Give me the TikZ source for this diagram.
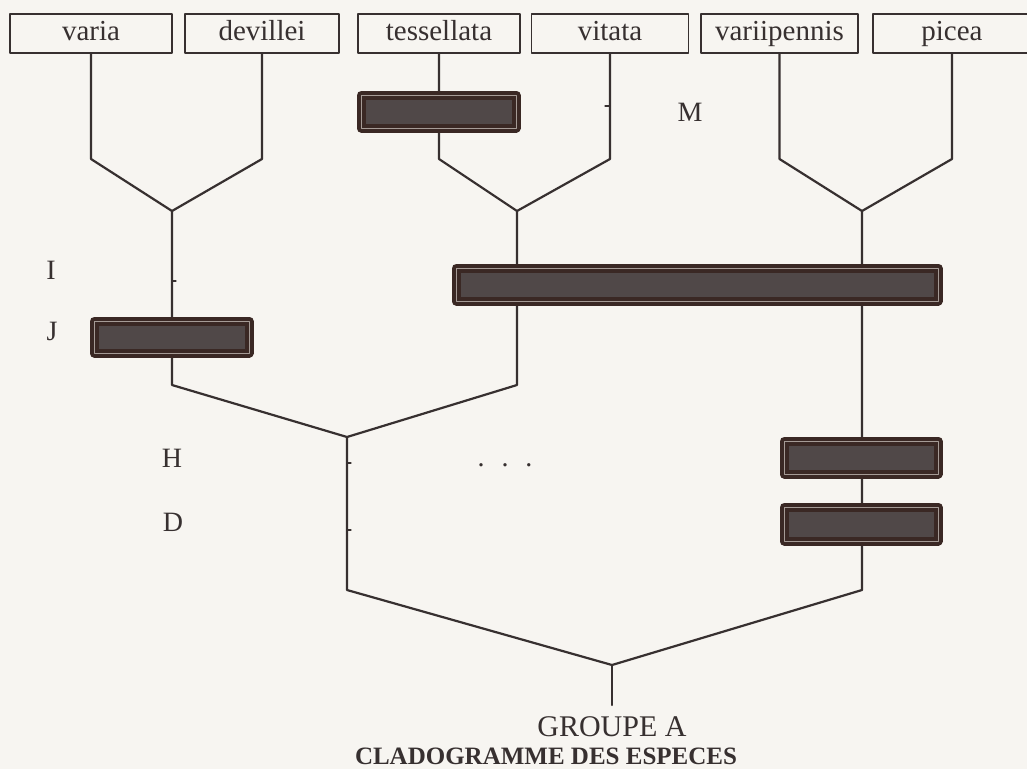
\documentclass[tikz,border=0pt]{standalone}
\usepackage{fontspec}
\setmainfont{Liberation Serif}
\usepackage{xcolor}
\definecolor{paper}{RGB}{247,245,241}
\definecolor{ink}{RGB}{55,48,48}
\definecolor{bardark}{RGB}{58,40,36}
\definecolor{bargrey}{RGB}{80,72,72}
\definecolor{barlight}{RGB}{165,155,150}

\begin{document}
\begin{tikzpicture}[x=1pt,y=-1pt,line width=2pt,line cap=round,line join=round,
    taxon/.style={draw=ink,line width=1.8pt,rectangle,inner sep=0pt,minimum height=39pt,
      text height=20pt,text depth=6pt,text=ink,font=\fontsize{29}{32}\selectfont},
    branch/.style={draw=ink,line width=2.2pt},
    charbar/.style={rectangle,inner sep=0pt,fill=bargrey,draw=bardark,line width=4pt,
      double=barlight,double distance=1pt},
    letter/.style={anchor=base,inner sep=0pt,text=ink,font=\fontsize{28}{32}\selectfont}]
  \path[use as bounding box,fill=paper] (0,0) rectangle (1027,769);

  % species
  \node[taxon,minimum width=162pt] (varia)       at (91,33.5)    {varia};
  \node[taxon,minimum width=154pt] (devillei)    at (262,33.5)   {devillei};
  \node[taxon,minimum width=162pt] (tessellata)  at (439,33.5)   {tessellata};
  \node[taxon,minimum width=157pt] (vitata)      at (610,33.5)   {vitata};
  \node[taxon,minimum width=157pt] (variipennis) at (779.5,33.5) {variipennis};
  \node[taxon,minimum width=158pt] (picea)       at (952,33.5)   {picea};

  % levels and forks
  \coordinate (lvlA) at (0,159);
  \coordinate (lvlB) at (0,385);
  \coordinate (lvlC) at (0,590);
  \coordinate (jVD)  at (172,211);
  \coordinate (jTV)  at (517,211);
  \coordinate (jVP)  at (862,211);
  \coordinate (jL)   at (347,437);
  \coordinate (root) at (612,665);
  \coordinate (base) at (612,705);

  \draw[branch] (varia) -- (varia |- lvlA) -- (jVD) -- (devillei |- lvlA) -- (devillei);
  \draw[branch] (tessellata) -- (tessellata |- lvlA) -- (jTV) -- (vitata |- lvlA) -- (vitata);
  \draw[branch] (variipennis) -- (variipennis |- lvlA) -- (jVP) -- (picea |- lvlA) -- (picea);
  \draw[branch] (jVD) -- (jVD |- lvlB) -- (jL) -- (jTV |- lvlB) -- (jTV);
  \draw[branch] (jL) -- (jL |- lvlC) -- (root) -- (jVP |- lvlC) -- (jVP);
  \draw[branch] (root) -- (base);

  % small ticks
  \draw[branch,line width=1.2pt] (610,106) -- ++(-5,0);
  \draw[branch,line width=1.2pt] (172,281) -- ++(4,0);
  \draw[branch,line width=1.2pt] (347,463) -- ++(4,0);
  \draw[branch,line width=1.2pt] (347,530) -- ++(4,0);

  % character bars
  \node[charbar,minimum width=155pt,minimum height=33pt] (barM) at (438.5,111.5) {};
  \node[charbar,minimum width=482pt,minimum height=33pt] (barI) at (697,284.5) {};
  \node[charbar,minimum width=155pt,minimum height=32pt] (barJ) at (171.5,337) {};
  \node[charbar,minimum width=154pt,minimum height=33pt] (barH) at (861,457.5) {};
  \node[charbar,minimum width=154pt,minimum height=34pt] (barD) at (861,524) {};

  \node[letter] (lblM) at (690,121) {M};
  \node[letter] (lblI) at (51,279)  {I};
  \node[letter] (lblJ) at (52,340)  {J};
  \node[letter] (lblH) at (172,467) {H};
  \node[letter] (lblD) at (173,531) {D};
  \node[letter] (dots) at (505,466) {.\hspace{17pt}.\hspace{17pt}.};

  \node[letter,font=\fontsize{30}{34}\selectfont] (group) at (612,736) {GROUPE A};
  \node[letter,font=\fontsize{25}{30}\selectfont\bfseries] (title) at (546,764) {CLADOGRAMME DES ESPECES};
\end{tikzpicture}
\end{document}
